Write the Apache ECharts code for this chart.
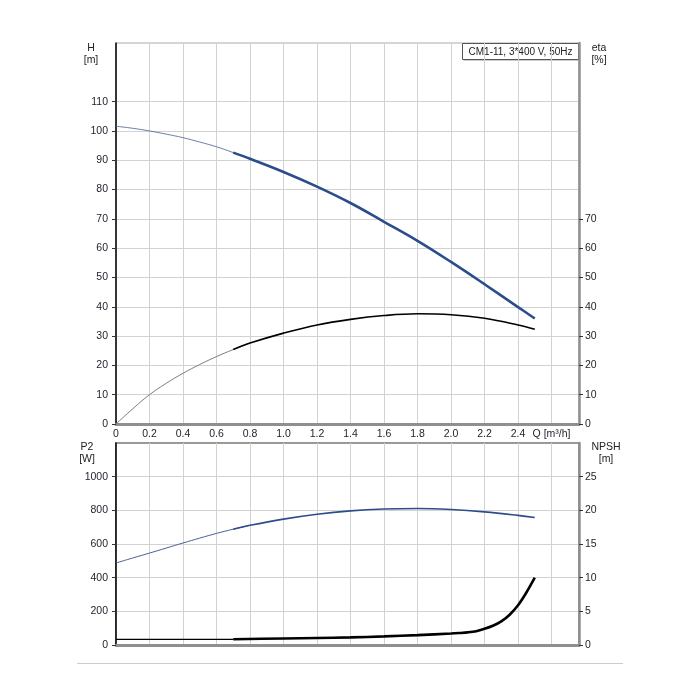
<!DOCTYPE html>
<html>
<head>
<meta charset="utf-8">
<script src="https://cdn.jsdelivr.net/npm/echarts@6/dist/echarts.min.js"></script>
<style>html,body{margin:0;padding:0;background:#fff;}#c{width:700px;height:700px;}</style>
</head>
<body>
<div id="c"></div>
<script>
// ---- data ----
var qValues    = [0, 0.1, 0.2, 0.3, 0.4, 0.5, 0.6, 0.7, 0.8, 1.0, 1.2, 1.4, 1.6, 1.8, 2.0, 2.2, 2.4, 2.5];
var headValues = [101.6, 100.9, 100.0, 98.9, 97.7, 96.2, 94.6, 92.6, 90.5, 86.0, 81.0, 75.4, 69.0, 62.5, 55.3, 47.7, 39.9, 36.0];
var etaValues  = [0, 5.2, 10.0, 13.9, 17.3, 20.3, 23.0, 25.4, 27.6, 31.0, 33.8, 35.7, 37.0, 37.6, 37.3, 36.1, 33.8, 32.3];
var p2Values   = [487, 517, 546, 576, 606, 635, 663, 688, 711, 748, 777, 797, 808, 811, 805, 791, 770, 757];
var npshQ      = [0, 0.7, 1.0, 1.2, 1.4, 1.6, 1.8, 2.0, 2.05, 2.1, 2.15, 2.2, 2.25, 2.3, 2.35, 2.4, 2.45, 2.5];
var npshValues = [0.85, 0.85, 0.97, 1.05, 1.13, 1.28, 1.47, 1.70, 1.78, 1.88, 2.05, 2.4, 2.85, 3.5, 4.5, 5.9, 7.8, 10.0];
var thickFrom  = 0.7;

var xTickValues = [0, 0.2, 0.4, 0.6, 0.8, 1.0, 1.2, 1.4, 1.6, 1.8, 2.0, 2.2, 2.4, 2.6];
var xTickLabels = ['0', '0.2', '0.4', '0.6', '0.8', '1.0', '1.2', '1.4', '1.6', '1.8', '2.0', '2.2', '2.4', 'Q [m\u00B3/h]'];
var hTicks    = [0, 10, 20, 30, 40, 50, 60, 70, 80, 90, 100, 110];
var etaTicks  = [0, 10, 20, 30, 40, 50, 60, 70];
var p2Ticks   = [0, 200, 400, 600, 800, 1000];
var npshTicks = [0, 5, 10, 15, 20, 25];
var legendText = 'CM1-11, 3*400 V, 50Hz';

// ---- build ----
function pairs(qs, vs, lo, hi) {
  var out = [];
  for (var i = 0; i < qs.length; i++) if (qs[i] >= lo - 1e-9 && qs[i] <= hi + 1e-9) out.push([qs[i], vs[i]]);
  return out;
}
var BLUE = '#2c4d8c';
var FONT = 'Liberation Sans, Arial, sans-serif';
var labelStyle = { color: '#1e1e2a', fontSize: 10.5, fontFamily: FONT };
var gridLine = { show: true, lineStyle: { color: '#d2d2d2', width: 1 } };

function yAxis(grid, pos, max, interval, ticks, lineColor, lineWidth, margin) {
  return {
    type: 'value', gridIndex: grid, position: pos, min: 0, max: max, interval: interval,
    axisLine: { show: true, onZero: false, lineStyle: { color: lineColor, width: lineWidth } },
    axisTick: { show: true, length: 4, customValues: ticks, lineStyle: { color: '#333' } },
    axisLabel: Object.assign({ customValues: ticks, margin: margin, formatter: function (v) { return String(v); } }, labelStyle),
    splitLine: pos === 'left' ? gridLine : { show: false }
  };
}
function nameText(x, y, txt) {
  return { type: 'text', x: x, y: y, silent: true,
    style: { text: txt, fill: '#222', font: '10.5px ' + FONT, align: 'center', verticalAlign: 'top', lineHeight: 12 } };
}

var chart = echarts.init(document.getElementById('c'), null, { renderer: 'canvas' });
chart.setOption({
  animation: false,
  backgroundColor: '#fff',
  grid: [
    { left: 116, top: 43, width: 463, height: 381, show: true, borderColor: '#aaaaaa', borderWidth: 1 },
    { left: 116, top: 443, width: 463, height: 202, show: true, borderColor: '#999999', borderWidth: 2 }
  ],
  xAxis: [
    { type: 'value', gridIndex: 0, min: 0, max: 2.764, interval: 0.2,
      axisLine: { show: true, onZero: false, lineStyle: { color: '#8f8f8f', width: 3 } },
      axisTick: { show: false },
      axisLabel: Object.assign({ customValues: xTickValues, margin: 5,
        formatter: function (v) { var i = xTickValues.findIndex(function (t) { return Math.abs(t - v) < 1e-6; }); return i >= 0 ? xTickLabels[i] : ''; } }, labelStyle),
      splitLine: gridLine },
    { type: 'value', gridIndex: 1, min: 0, max: 2.764, interval: 0.2,
      axisLine: { show: true, onZero: false, lineStyle: { color: '#8f8f8f', width: 3 } },
      axisTick: { show: false }, axisLabel: { show: false },
      splitLine: gridLine }
  ],
  yAxis: [
    yAxis(0, 'left', 130, 10, hTicks, '#000', 1.5, 8),
    yAxis(0, 'right', 130, 10, etaTicks, '#8f8f8f', 2.5, 6),
    yAxis(1, 'left', 1200, 200, p2Ticks, '#000', 1.5, 8),
    yAxis(1, 'right', 30, 5, npshTicks, '#8f8f8f', 2.5, 6)
  ],
  series: [
    { type: 'line', xAxisIndex: 0, yAxisIndex: 0, data: pairs(qValues, headValues, 0, 0.8), smooth: 0.4, symbol: 'none',
      lineStyle: { color: '#5c6f9c', width: 0.9 } },
    { type: 'line', xAxisIndex: 0, yAxisIndex: 0, data: pairs(qValues, headValues, thickFrom, 9), smooth: 0.4, symbol: 'none',
      lineStyle: { color: BLUE, width: 2.6 } },
    { type: 'line', xAxisIndex: 0, yAxisIndex: 1, data: pairs(qValues, etaValues, 0, 0.8), smooth: 0.4, symbol: 'none',
      lineStyle: { color: '#6e6e6e', width: 0.9 } },
    { type: 'line', xAxisIndex: 0, yAxisIndex: 1, data: pairs(qValues, etaValues, thickFrom, 9), smooth: 0.4, symbol: 'none',
      lineStyle: { color: '#000', width: 1.6 } },
    { type: 'line', xAxisIndex: 1, yAxisIndex: 2, data: pairs(qValues, p2Values, 0, 0.8), smooth: 0.4, symbol: 'none',
      lineStyle: { color: '#4a6196', width: 1.0 } },
    { type: 'line', xAxisIndex: 1, yAxisIndex: 2, data: pairs(qValues, p2Values, thickFrom, 9), smooth: 0.4, symbol: 'none',
      lineStyle: { color: BLUE, width: 1.6 } },
    { type: 'line', xAxisIndex: 1, yAxisIndex: 3, data: pairs(npshQ, npshValues, 0, thickFrom), smooth: false, symbol: 'none',
      lineStyle: { color: '#000', width: 1.2 } },
    { type: 'line', xAxisIndex: 1, yAxisIndex: 3, data: pairs(npshQ, npshValues, thickFrom, 9), smooth: 0.3, symbol: 'none',
      lineStyle: { color: '#000', width: 2.6 } }
  ],
  graphic: [
    nameText(91, 42, 'H\n[m]'),
    nameText(599, 42, 'eta\n[%]'),
    nameText(87, 441, 'P2\n[W]'),
    nameText(606, 441, 'NPSH\n[m]'),
    { type: 'group', left: 462, top: 43, children: [
      { type: 'rect', shape: { x: 1, y: 1, width: 116, height: 16 }, style: { fill: '#9a9a9a' } },
      { type: 'rect', shape: { x: 0, y: 0, width: 116, height: 16 }, style: { fill: '#fff', stroke: '#555', lineWidth: 1 } },
      { type: 'text', x: 58, y: 8.5, style: { text: legendText, fill: '#222', font: '10px ' + FONT, align: 'center', verticalAlign: 'middle' } }
    ] },
    { type: 'line', shape: { x1: 77, y1: 663.5, x2: 623, y2: 663.5 }, style: { stroke: '#cccccc', lineWidth: 1 } }
  ]
});
</script>
</body>
</html>
